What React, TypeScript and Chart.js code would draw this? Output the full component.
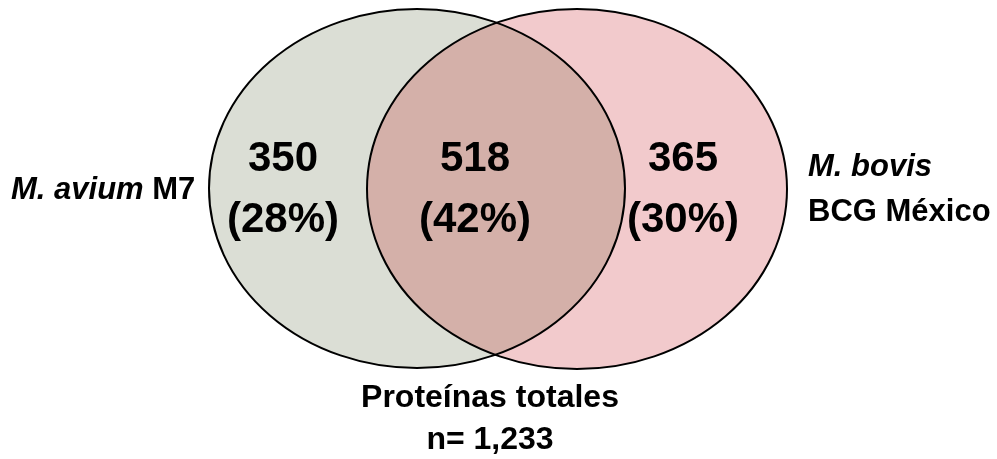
import { useEffect, useRef } from "react";
import { Chart, registerables } from "chart.js";

Chart.register(...registerables);

// Protein counts per Venn region: only M. avium, shared, only M. bovis
const regionCounts = [350, 518, 365];
const totalProteins = regionCounts.reduce((a, b) => a + b, 0);

// Set names (italic species + upright strain)
const setSpecies = ["M. avium", "M. bovis"];
const setStrains = ["M7", "BCG México"];
const totalTitle = "Proteínas totales";

// Layout in chart units (x: 0..997, y: 0..459 from the top)
const W = 997;
const H = 459;
const ellipseCX = [417, 577];
const ellipseCY = [188.5, 189];
const ellipseRX = [208, 210];
const ellipseRY = [179.5, 180];
const regionTextX = [283, 475, 683];
const countTextY = 159;
const pctTextY = 220;

const setFills = ["#dbded5", "#f2cacc"];
const overlapFill = "#d4b0a9";
const FONT = '"Liberation Sans", Arial, sans-serif';

const vennPlugin = {
  id: "venn",
  beforeDatasetsDraw(chart: any) {
    const { ctx, scales } = chart;
    const xs = scales.x;
    const ys = scales.y;
    const shapes = ellipseCX.map((cx, i) => {
      const pcx = xs.getPixelForValue(cx);
      const pcy = ys.getPixelForValue(ellipseCY[i]);
      return {
        cx: pcx,
        cy: pcy,
        rx: Math.abs(xs.getPixelForValue(cx + ellipseRX[i]) - pcx),
        ry: Math.abs(ys.getPixelForValue(ellipseCY[i] + ellipseRY[i]) - pcy),
      };
    });
    const path = (s: any) => {
      ctx.beginPath();
      ctx.ellipse(s.cx, s.cy, s.rx, s.ry, 0, 0, Math.PI * 2);
    };
    ctx.save();
    shapes.forEach((s, i) => {
      path(s);
      ctx.fillStyle = setFills[i];
      ctx.fill();
    });
    // shared region
    ctx.save();
    path(shapes[0]);
    ctx.clip();
    path(shapes[1]);
    ctx.fillStyle = overlapFill;
    ctx.fill();
    ctx.restore();
    shapes.forEach((s) => {
      path(s);
      ctx.lineWidth = 2;
      ctx.strokeStyle = "#000";
      ctx.stroke();
    });
    ctx.restore();
  },
  afterDatasetsDraw(chart: any) {
    const { ctx, scales } = chart;
    const X = (v: number) => scales.x.getPixelForValue(v);
    const Y = (v: number) => scales.y.getPixelForValue(v);
    ctx.save();
    ctx.fillStyle = "#000";
    ctx.textBaseline = "middle";
    ctx.textAlign = "center";

    // region counts and percentages
    ctx.font = `bold 42px ${FONT}`;
    regionCounts.forEach((c, i) => {
      const pct = Math.round((c / totalProteins) * 100);
      ctx.fillText(String(c), X(regionTextX[i]), Y(countTextY));
      ctx.fillText(`(${pct}%)`, X(regionTextX[i]), Y(pctTextY));
    });

    // set labels
    ctx.textAlign = "left";
    const italic = `italic bold 31px ${FONT}`;
    const bold = `bold 31px ${FONT}`;
    // left set: species + strain on one line
    ctx.font = italic;
    const sp0 = setSpecies[0] + " ";
    ctx.fillText(sp0, X(11), Y(190));
    const w0 = ctx.measureText(sp0).width;
    ctx.font = bold;
    ctx.fillText(setStrains[0], X(11) + w0, Y(190));
    // right set: species above strain
    ctx.font = italic;
    ctx.fillText(setSpecies[1], X(808), Y(167));
    ctx.font = bold;
    ctx.fillText(setStrains[1], X(808), Y(212));

    // total
    ctx.textAlign = "center";
    ctx.font = `bold 32px ${FONT}`;
    ctx.fillText(totalTitle, X(490), Y(398));
    ctx.fillText(`n= ${totalProteins.toLocaleString("en-US")}`, X(490), Y(440));
    ctx.restore();
  },
};

export default function App() {
  const canvasRef = useRef<HTMLCanvasElement | null>(null);

  useEffect(() => {
    if (!canvasRef.current) return;
    const chart = new Chart(canvasRef.current, {
      type: "scatter",
      data: { datasets: [] },
      options: {
        animation: false,
        responsive: false,
        maintainAspectRatio: false,
        devicePixelRatio: 1,
        layout: { padding: 0 },
        plugins: { legend: { display: false }, tooltip: { enabled: false } },
        scales: {
          x: { type: "linear", display: false, min: 0, max: W },
          y: { type: "linear", display: false, min: 0, max: H, reverse: true },
        },
      },
      plugins: [vennPlugin],
    });
    return () => chart.destroy();
  }, []);

  return (
    <div style={{ position: "fixed", left: 0, top: 0, width: W, height: H, background: "#fff" }}>
      <canvas ref={canvasRef} width={W} height={H} style={{ display: "block" }} />
    </div>
  );
}
